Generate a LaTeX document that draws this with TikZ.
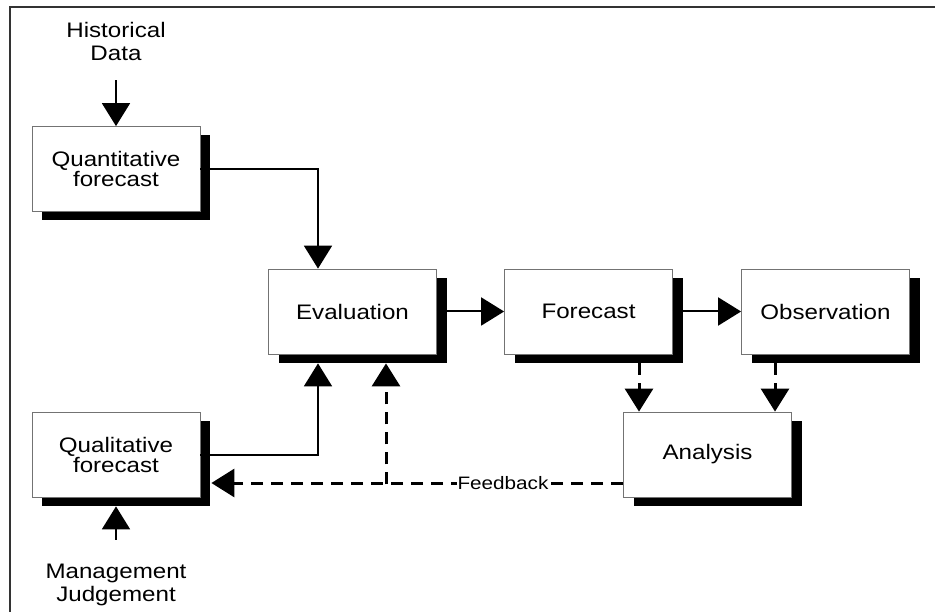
\documentclass[tikz,border=0pt]{standalone}
\usepackage{fontspec}
\setmainfont[FakeStretch=1.15]{Liberation Sans}
\usetikzlibrary{arrows.meta,shadows,calc}
\begin{document}
\begin{tikzpicture}[x=1pt,y=-1pt,
  box/.style={draw=black!55, line width=0.8pt, fill=white,
    minimum width=168pt, minimum height=85pt, inner sep=0pt, align=center,
    font=\fontsize{21}{20}\selectfont,
    drop shadow={shadow xshift=10pt, shadow yshift=-9pt, fill=black, opacity=1}},
  lbl/.style={align=center, font=\fontsize{21}{23}\selectfont, inner sep=0pt},
  arr/.style={line width=2pt, -{Triangle[width=28pt,length=23pt]}},
  darr/.style={line width=3pt, dash pattern=on 12pt off 8pt, -{Triangle[width=28pt,length=23pt]}}
]
\useasboundingbox (0,0) rectangle (935,612);
\fill[white] (0,0) rectangle (935,612);
\draw[line width=1.5pt, black!80] (935,7) -- (10,7) -- (10,612);

\node[lbl] (hd) at (116,41) {Historical\\Data};
\node[lbl] (mj) at (116,585) {Management\\Judgement};

\node[box] (q)  at (116,169)   {Quantitative\\forecast};
\node[box] (e)  at (352.5,311.5) {Evaluation};
\node[box] (f)  at (588.5,311.5) {Forecast};
\node[box] (o)  at (825.5,311.5) {Observation};
\node[box] (a)  at (707.5,454.5) {Analysis};
\node[box] (ql) at (116,454.5) {Qualitative\\forecast};

\draw[arr] ($(hd.south)+(0,20)$) -- (q.north);
\draw[arr] (q.east) -| ($(e.north)+(-34.5,0)$);
\draw[arr] (ql.east) -| ($(e.south)+(-34.5,9)$);
\draw[arr] (e.east) -- (f.west);
\draw[arr] (f.east) -- (o.west);
\draw[darr] ($(f.south)+(50.5,9)$) -- ($(a.north)+(-68.5,0)$);
\draw[darr] ($(o.south)+(-50.5,9)$) -- ($(a.north)+(67.5,0)$);
\draw[arr] ($(mj.north)+(0,-24)$) -- ($(ql.south)+(0,9)$);

\draw[darr] ($(a.west)+(0,28.5)$) -- ($(ql.east)+(11,28.5)$);
\draw[darr] ($(e.south)+(33.5,130)$) -- ($(e.south)+(33.5,9)$);
\node[fill=white, inner sep=1pt, font=\fontsize{18}{18}\selectfont] (fb) at (503,483) {Feedback};
\end{tikzpicture}
\end{document}
